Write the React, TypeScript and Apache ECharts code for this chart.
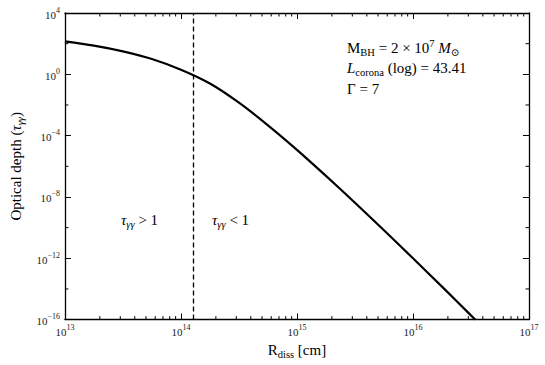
import React, { useEffect, useRef } from "react";
import * as echarts from "echarts";

// Curve (log10 R [cm], log10 tau)
const logR = [13, 13.25, 13.5, 13.75, 14.0, 14.25, 14.5, 14.75, 15.0, 15.25, 15.5, 15.75, 16.0, 16.25, 16.5, 16.537];
const logTau = [2.15, 1.875, 1.5, 1.0, 0.3, -0.6, -1.85, -3.325, -4.925, -6.625, -8.375, -10.175, -12.0, -13.85, -15.725, -16.0];

const xMin = 1e13;
const xMax = 1e17;
const yMin = 1e-16;
const yMax = 1e4;
const dissBoundary = 1.27e14; // dashed line where tau = 1

const xDecades = [13, 14, 15, 16];
const xMinorMultiples = [2, 3, 4, 5, 6, 7, 8, 9];
const yMinorExponents = [2, -2, -6, -10, -14];

const FONT = "'Liberation Serif', 'DejaVu Serif', serif";
const INK = "#000";
const LABEL = "#222";

const expLabel = (v: number) => {
  const e = Math.round(Math.log10(v));
  const s = e < 0 ? "\u2212" + Math.abs(e) : String(e);
  return `{b|10}{s|${s}}`;
};

const tickRich = {
  b: { fontFamily: FONT, fontSize: 11, color: LABEL, lineHeight: 14, verticalAlign: "bottom" },
  s: { fontFamily: FONT, fontSize: 8, color: LABEL, lineHeight: 14, verticalAlign: "top" },
};

const textRich = {
  t: { fontFamily: FONT, fontSize: 15, color: INK, lineHeight: 20, verticalAlign: "middle" },
  it: { fontFamily: FONT, fontSize: 15, fontStyle: "italic", color: INK, lineHeight: 20, verticalAlign: "middle" },
  sub: { fontFamily: FONT, fontSize: 10.5, color: INK, lineHeight: 20, verticalAlign: "bottom" },
  subi: { fontFamily: FONT, fontSize: 10.5, fontStyle: "italic", color: INK, lineHeight: 20, verticalAlign: "bottom" },
  sup: { fontFamily: FONT, fontSize: 10.5, color: INK, lineHeight: 20, verticalAlign: "top" },
};

export default function App() {
  const ref = useRef<HTMLDivElement>(null);
  useEffect(() => {
    document.body.style.margin = "0";
    document.body.style.overflow = "hidden";
    if (!ref.current) return;
    const chart = echarts.init(ref.current, null, { renderer: "svg" });
    const curve = logR.map((e, i) => [Math.pow(10, e), Math.pow(10, logTau[i])]);
    const xMinorData: number[][] = [];
    xDecades.forEach((d) => xMinorMultiples.forEach((m) => xMinorData.push([m * Math.pow(10, d), 1])));
    const yMinorData = yMinorExponents.map((e) => [1e15, Math.pow(10, e)]);

    const axisLine = { show: true, lineStyle: { color: INK, width: 1.3 } };
    const majorTick = { show: true, inside: true, length: 6, lineStyle: { color: INK, width: 1 } };

    chart.setOption({
      animation: false,
      backgroundColor: "#fff",
      grid: { left: 60, right: 16, top: 13, bottom: 39, containLabel: false },
      xAxis: [
        {
          type: "log",
          logBase: 10,
          min: xMin,
          max: xMax,
          interval: 1,
          position: "bottom",
          axisLine,
          axisTick: majorTick,
          splitLine: { show: false },
          axisLabel: { formatter: expLabel, rich: tickRich, margin: 4, showMaxLabel: true, showMinLabel: true },
          name: "R{sub|diss} [cm]",
          nameLocation: "middle",
          nameGap: 17,
          nameTextStyle: {
            fontFamily: FONT,
            fontSize: 15,
            color: INK,
            rich: {
              sub: { fontFamily: FONT, fontSize: 10.5, color: INK, verticalAlign: "bottom", lineHeight: 20 },
            },
          },
        },
        {
          type: "log",
          logBase: 10,
          min: xMin,
          max: xMax,
          interval: 1,
          position: "top",
          axisLine,
          axisTick: majorTick,
          axisLabel: { show: false },
          splitLine: { show: false },
        },
      ],
      yAxis: [
        {
          type: "log",
          logBase: 10,
          min: yMin,
          max: yMax,
          interval: 4,
          position: "left",
          axisLine,
          axisTick: majorTick,
          splitLine: { show: false },
          axisLabel: { formatter: expLabel, rich: tickRich, margin: 5, showMaxLabel: true, showMinLabel: true },
          name: "Optical depth ({it|\u03c4}{sub|\u03b3\u03b3})",
          nameLocation: "middle",
          nameGap: 38,
          nameRotate: 90,
          nameTextStyle: {
            fontFamily: FONT,
            fontSize: 15,
            color: INK,
            rich: {
              it: { fontFamily: FONT, fontSize: 15, fontStyle: "italic", color: INK },
              sub: { fontFamily: FONT, fontSize: 10.5, fontStyle: "italic", color: INK, verticalAlign: "bottom", lineHeight: 20 },
            },
          },
        },
        {
          type: "log",
          logBase: 10,
          min: yMin,
          max: yMax,
          interval: 4,
          position: "right",
          axisLine,
          axisTick: majorTick,
          axisLabel: { show: false },
          splitLine: { show: false },
        },
      ],
      series: [
        {
          type: "line",
          data: curve,
          smooth: 0.3,
          showSymbol: false,
          symbol: "none",
          lineStyle: { color: INK, width: 2.2 },
          z: 5,
          markLine: {
            silent: true,
            symbol: ["none", "none"],
            label: { show: false },
            lineStyle: { color: INK, width: 1.3, type: [5, 3] },
            data: [{ xAxis: dissBoundary }],
          },
        },
        {
          type: "custom",
          clip: false,
          silent: true,
          data: xMinorData,
          renderItem: (_p: any, api: any) => {
            const x = api.value(0);
            const pb = api.coord([x, yMin]);
            const pt = api.coord([x, yMax]);
            return {
              type: "group",
              children: [
                { type: "line", shape: { x1: pb[0], y1: pb[1], x2: pb[0], y2: pb[1] - 3.5 }, style: { stroke: INK, lineWidth: 1 } },
                { type: "line", shape: { x1: pt[0], y1: pt[1], x2: pt[0], y2: pt[1] + 3.5 }, style: { stroke: INK, lineWidth: 1 } },
              ],
            };
          },
        },
        {
          type: "custom",
          clip: false,
          silent: true,
          data: yMinorData,
          renderItem: (_p: any, api: any) => {
            const y = api.value(1);
            const pl = api.coord([xMin, y]);
            const pr = api.coord([xMax, y]);
            return {
              type: "group",
              children: [
                { type: "line", shape: { x1: pl[0], y1: pl[1], x2: pl[0] + 3.5, y2: pl[1] }, style: { stroke: INK, lineWidth: 1 } },
                { type: "line", shape: { x1: pr[0], y1: pr[1], x2: pr[0] - 3.5, y2: pr[1] }, style: { stroke: INK, lineWidth: 1 } },
              ],
            };
          },
        },
      ],
      graphic: [
        {
          type: "text",
          left: 347,
          top: 38,
          style: {
            text: "{t|M}{sub|BH}{t| = 2 \u00d7 10}{sup|7}{t| }{it|M}{sub|\u2299}",
            rich: textRich,
          },
        },
        {
          type: "text",
          left: 347,
          top: 60,
          style: {
            text: "{it|L}{sub|corona}{t| (log) = 43.41}",
            rich: textRich,
          },
        },
        {
          type: "text",
          left: 347,
          top: 81,
          style: {
            text: "{t|\u0393 = 7}",
            rich: textRich,
          },
        },
        {
          type: "text",
          left: 121,
          top: 212,
          style: {
            text: "{it|\u03c4}{subi|\u03b3\u03b3}{t| > 1}",
            rich: textRich,
          },
        },
        {
          type: "text",
          left: 212,
          top: 212,
          style: {
            text: "{it|\u03c4}{subi|\u03b3\u03b3}{t| < 1}",
            rich: textRich,
          },
        },
      ],
    });
    return () => chart.dispose();
  }, []);
  return <div ref={ref} style={{ width: 545, height: 365 }} />;
}
